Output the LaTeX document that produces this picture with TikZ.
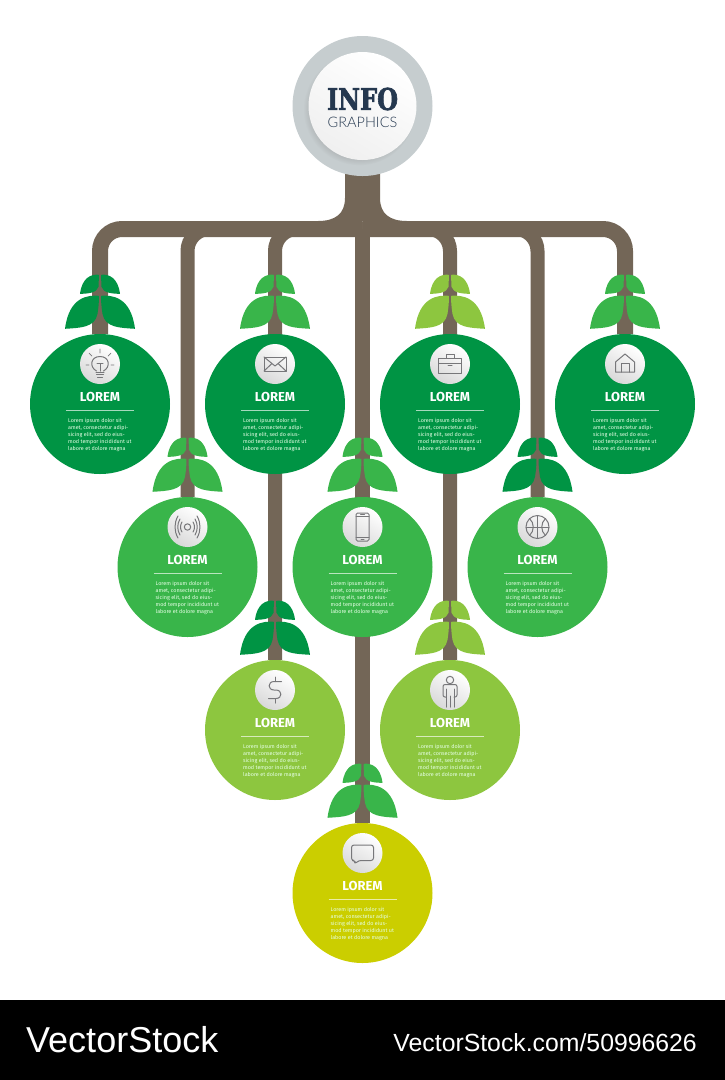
\documentclass[tikz,border=0pt]{standalone}
\usepackage{fontspec}
\usetikzlibrary{backgrounds,shadows}
\setmainfont{Liberation Sans}
\newfontfamily\titlefont{Fira Sans}
\newfontfamily\infofont[FakeStretch=0.8,FakeBold=2]{DejaVu Serif}
\newfontfamily\graphfont{Lato Light}
\definecolor{stemcol}{HTML}{736657}
\definecolor{darkgreen}{HTML}{009444}
\definecolor{midgreen}{HTML}{39B54A}
\definecolor{lightgreen}{HTML}{8DC63F}
\definecolor{limegreen}{HTML}{CBCE00}
\definecolor{ringgray}{HTML}{C6CDCF}
\definecolor{navy}{HTML}{25384F}
\definecolor{icongray}{HTML}{77777A}
\tikzset{
  bubble/.style={circle,minimum size=140pt,inner sep=0pt},
  stem/.style={draw=stemcol,line width=#1,rounded corners=22pt},
  disc/.style={circle,minimum size=40pt,inner sep=0pt,left color=white,right color=black!15,shading angle=-30},
  heading/.style={text=white,font=\titlefont\bfseries\fontsize{13}{13}\selectfont,inner sep=0pt},
  blurb/.style={text=white!90!green,align=left,font=\titlefont\fontsize{5.4}{7.1}\selectfont,inner sep=0pt,anchor=north west},
  ico/.style={draw=icongray,line width=1pt,line cap=round,line join=round},
  pics/leaves/.style={code={
    \fill[#1] (-1,-38) .. controls (-12,-39) and (-31,-37) .. (-35,-5)
       .. controls (-20,-6) and (-5,-6) .. (-2.5,-20) .. controls (-1.5,-26) and (-1,-32) .. (-1,-38) -- cycle;
    \fill[#1] (1,-38) .. controls (12,-39) and (31,-37) .. (35,-5)
       .. controls (20,-6) and (5,-6) .. (2.5,-20) .. controls (1.5,-26) and (1,-32) .. (1,-38) -- cycle;
    \fill[#1] (-1,-59) .. controls (-9,-60) and (-18,-56) .. (-20,-40)
       .. controls (-12,-40) and (-3,-41) .. (-1.5,-47) -- cycle;
    \fill[#1] (1,-59) .. controls (9,-60) and (18,-56) .. (20,-40)
       .. controls (12,-40) and (3,-41) .. (1.5,-47) -- cycle;
  }},
  pics/bulb/.style={code={
    \draw[ico] (-3.5,7) .. controls (-11,3) and (-9.5,-7.5) .. (0,-7.5) .. controls (9.5,-7.5) and (11,3) .. (3.5,7);
    \draw[ico] (-3,-.5) -- (3,-.5) (0,-.5) -- (0,7) (-4,8) -- (4,8) (-3.5,10.5) -- (3.5,10.5) (-2.5,13) -- (2.5,13);
    \draw[ico,line width=.7pt] (0,-11) -- (0,-15) (-8,-8) -- (-11,-11) (8,-8) -- (11,-11) (-11,1) -- (-14,1) (11,1) -- (14,1);
  }},
  pics/mail/.style={code={
    \draw[ico] (-11,-7) rectangle (11,7);
    \draw[ico] (-11,-7) -- (0,2) -- (11,-7) (-11,7) -- (-3,-.5) (11,7) -- (3,-.5);
  }},
  pics/case/.style={code={
    \draw[ico] (-11.5,-6) rectangle (11.5,9);
    \draw[ico] (-11.5,-.5) -- (11.5,-.5) (-2,1.5) -- (2,1.5);
    \draw[ico] (-4,-6) -- (-4,-10) -- (4,-10) -- (4,-6);
  }},
  pics/house/.style={code={
    \draw[ico] (-9.5,8) -- (-9.5,-2) -- (0,-10) -- (9.5,-2) -- (9.5,8) -- cycle;
    \draw[ico] (-4,8) -- (-4,-1) -- (4,-1) -- (4,8);
  }},
  pics/waves/.style={code={
    \draw[ico] (0,0) circle[radius=3.2];
    \draw[ico] (-5.5,-5) .. controls (-7.5,-2) and (-7.5,2) .. (-5.5,5) (5.5,-5) .. controls (7.5,-2) and (7.5,2) .. (5.5,5);
    \draw[ico] (-7.5,-8) .. controls (-10.5,-3) and (-10.5,3) .. (-7.5,8) (7.5,-8) .. controls (10.5,-3) and (10.5,3) .. (7.5,8);
    \draw[ico] (-9.5,-11) .. controls (-13.5,-4) and (-13.5,4) .. (-9.5,11) (9.5,-11) .. controls (13.5,-4) and (13.5,4) .. (9.5,11);
  }},
  pics/phone/.style={code={
    \draw[ico,rounded corners=1.5pt] (-6.5,-14) rectangle (6.5,14);
    \draw[ico] (-6.5,-10.5) -- (6.5,-10.5) (-6.5,10) -- (6.5,10) (-2,-12.3) -- (2,-12.3) (-1.5,12) -- (1.5,12);
  }},
  pics/ball/.style={code={
    \draw[ico] (0,0) circle[radius=11.5];
    \draw[ico] (-11.5,0) -- (11.5,0) (0,-11.5) -- (0,11.5);
    \draw[ico] (-8,-8.5) .. controls (-3,-4) and (-3,4) .. (-8,8.5) (8,-8.5) .. controls (3,-4) and (3,4) .. (8,8.5);
  }},
  pics/dollar/.style={code={
    \draw[ico] (6.5,-8.5) -- (-1,-8.5) .. controls (-7.5,-8.5) and (-7.5,0) .. (-1,0) -- (1,0) .. controls (7.5,0) and (7.5,8.5) .. (1,8.5) -- (-6.5,8.5);
    \draw[ico] (0,-13) -- (0,-8.5) (0,8.5) -- (0,13);
  }},
  pics/man/.style={code={
    \draw[ico] (0,-10) circle[radius=3.7];
    \draw[ico] (-4,-1) -- (-4,17) (0,6) -- (0,17) (4,-1) -- (4,17);
    \draw[ico,rounded corners=2pt] (-4,7) -- (-7,7) -- (-7,-5.5) -- (7,-5.5) -- (7,7) -- (4,7);
  }},
  pics/chat/.style={code={
    \draw[ico,rounded corners=2.5pt] (-11,-8) -- (11,-8) -- (11,7.5) -- (-4,7.5) -- (-7.5,11) -- (-7.5,7.5) -- (-11,7.5) -- cycle;
  }},
}
% one round block: name, x, y, fill, leaf colour, icon
\newcommand{\block}[6]{%
  \node[bubble,fill=#4] (#1) at (#2,#3) {};
  \pic at (#1.north) {leaves=#5};
  \node[disc] (#1icon) at (#2,#3-40) {};
  \pic at (#1icon) {#6};
  \node[heading] (#1head) at (#2,#3-7) {LOREM};
  \draw[white,opacity=.65,line width=1pt] (#2-34,#3+6) -- (#2+34,#3+6);
  \node[blurb] (#1text) at (#2-32,#3+14) {Lorem ipsum dolor sit\\amet, consectetur adipi-\\sicing elit, sed do eius-\\mod tempor incididunt ut\\labore et dolore magna};
}
\begin{document}
\begin{tikzpicture}[x=1pt,y=-1pt]
\useasboundingbox (0,0) rectangle (725,1080);
\fill[black] (0,1000) rectangle (725,1080);
\node[text=white,font=\fontsize{36}{36}\selectfont,anchor=base west,inner sep=0pt] (brand) at (26,1052) {VectorStock};
\node[text=white,font=\fontsize{24.8}{24.8}\selectfont,anchor=base east,inner sep=0pt] (stockid) at (697,1051) {VectorStock.com/50996626};
% trunk and top disc
\coordinate (hub) at (362.5,229);
\node[circle,fill=ringgray,minimum size=140pt,inner sep=0pt] (ring) at (362.5,106) {};
\node[circle,minimum size=108pt,inner sep=0pt,left color=white,right color=black!6,shading angle=-30,circular drop shadow={shadow xshift=-3pt,shadow yshift=-3pt,opacity=.3,shadow scale=1.04}] (info) at (362.5,106) {};
\node[text=navy,font=\infofont\bfseries\fontsize{30}{30}\selectfont,inner sep=0pt] (infohead) at (362.5,99) {INFO};
\node[text=navy,font=\graphfont\fontsize{14.5}{14.5}\selectfont,inner sep=0pt] (infosub) at (362.5,122) {GRAPHICS};
% blocks
\block{lamp}{100}{404}{darkgreen}{darkgreen}{bulb}
\block{post}{275}{404}{darkgreen}{midgreen}{mail}
\block{work}{450}{404}{darkgreen}{lightgreen}{case}
\block{home}{625}{404}{darkgreen}{midgreen}{house}
\block{wifi}{187.5}{567}{midgreen}{midgreen}{waves}
\block{mobile}{362.5}{567}{midgreen}{midgreen}{phone}
\block{sport}{537.5}{567}{midgreen}{darkgreen}{ball}
\block{money}{275}{730}{lightgreen}{darkgreen}{dollar}
\block{person}{450}{730}{lightgreen}{lightgreen}{man}
\block{talk}{362.5}{893}{limegreen}{midgreen}{chat}
\begin{scope}[on background layer]
\fill[stemcol] (345,170) -- (345,198) .. controls (345,214) and (335,221) .. (318,221) -- (407,221) .. controls (390,221) and (380,214) .. (380,198) -- (380,170) -- cycle;
\draw[stem=16pt] (hub) -| (lamp);
\draw[stem=16pt] (hub) -| (home);
\draw[stem=14pt] (hub) -| (wifi);
\draw[stem=14pt] (hub) -| (sport);
\draw[stem=14pt] (hub) -| (money);
\draw[stem=14pt] (hub) -| (person);
\draw[stem=15pt] (hub) -- (talk);
\end{scope}
\end{tikzpicture}
\end{document}
